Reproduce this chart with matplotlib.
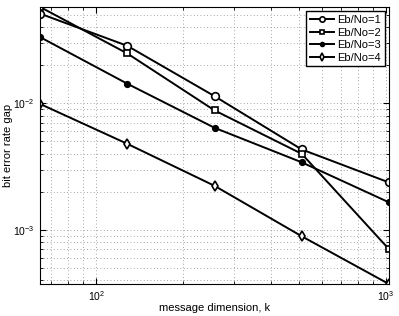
import matplotlib
matplotlib.use("Agg")
import matplotlib.pyplot as plt

k = [64, 128, 256, 512, 1024]
gap_eb1 = [0.0512, 0.0285, 0.0114, 0.00432, 0.00237]
gap_eb2 = [0.0578, 0.0248, 0.0088, 0.00399, 0.000703]
gap_eb3 = [0.0334, 0.0143, 0.00641, 0.00342, 0.00165]
gap_eb4 = [0.0099, 0.00479, 0.00223, 0.00089, 0.000373]
labels = ["Eb/No=1", "Eb/No=2", "Eb/No=3", "Eb/No=4"]


def main():
    plt.rcParams['font.family'] = ['Liberation Sans', 'DejaVu Sans']
    plt.rcParams['mathtext.fontset'] = 'custom'
    plt.rcParams['mathtext.rm'] = 'Liberation Sans'
    plt.rcParams['mathtext.it'] = 'Liberation Sans'

    fig = plt.figure(figsize=(3.99, 3.16), dpi=100)
    ax = fig.add_axes([0.1003, 0.101, 0.8747, 0.877])

    series = [gap_eb1, gap_eb2, gap_eb3, gap_eb4]
    styles = [
        dict(marker='o', markersize=5.5, markerfacecolor='white'),
        dict(marker='s', markersize=5, markerfacecolor='white'),
        dict(marker='.', markersize=8, markerfacecolor='black'),
        dict(marker='d', markersize=5.5, markerfacecolor='white'),
    ]
    for ys, lab, st in zip(series, labels, styles):
        ax.plot(k, ys, color='black', linewidth=1.4, markeredgewidth=1.2,
                label=lab, **st)

    ax.set_xscale('log')
    ax.set_yscale('log')
    ax.set_xlim(64, 1024)
    ax.set_ylim(min(gap_eb4), max(gap_eb2))

    ax.grid(True, which='both', linestyle=(0, (1, 3)), color='#888888',
            linewidth=0.6)
    ax.tick_params(which='both', direction='in', top=True, right=True,
                   labelsize=7.5, pad=4)
    ax.tick_params(which='major', length=4)
    ax.tick_params(which='minor', length=2)
    ax.xaxis.set_minor_formatter(matplotlib.ticker.NullFormatter())
    ax.yaxis.set_minor_formatter(matplotlib.ticker.NullFormatter())

    ax.set_xlabel("message dimension, k", fontsize=8)
    ax.set_ylabel("bit error rate gap", fontsize=8)
    ax.xaxis.set_label_coords(0.5, -0.068)
    ax.yaxis.set_label_coords(-0.076, 0.5)

    ax.legend(loc='upper right', fontsize=8, fancybox=False, framealpha=1,
              edgecolor='black', handlelength=2.2, borderpad=0.3,
              labelspacing=0.25, handletextpad=0.3, borderaxespad=0.4,
              markerscale=0.7)

    fig.savefig("out.png", dpi=100)


if __name__ == "__main__":
    main()
